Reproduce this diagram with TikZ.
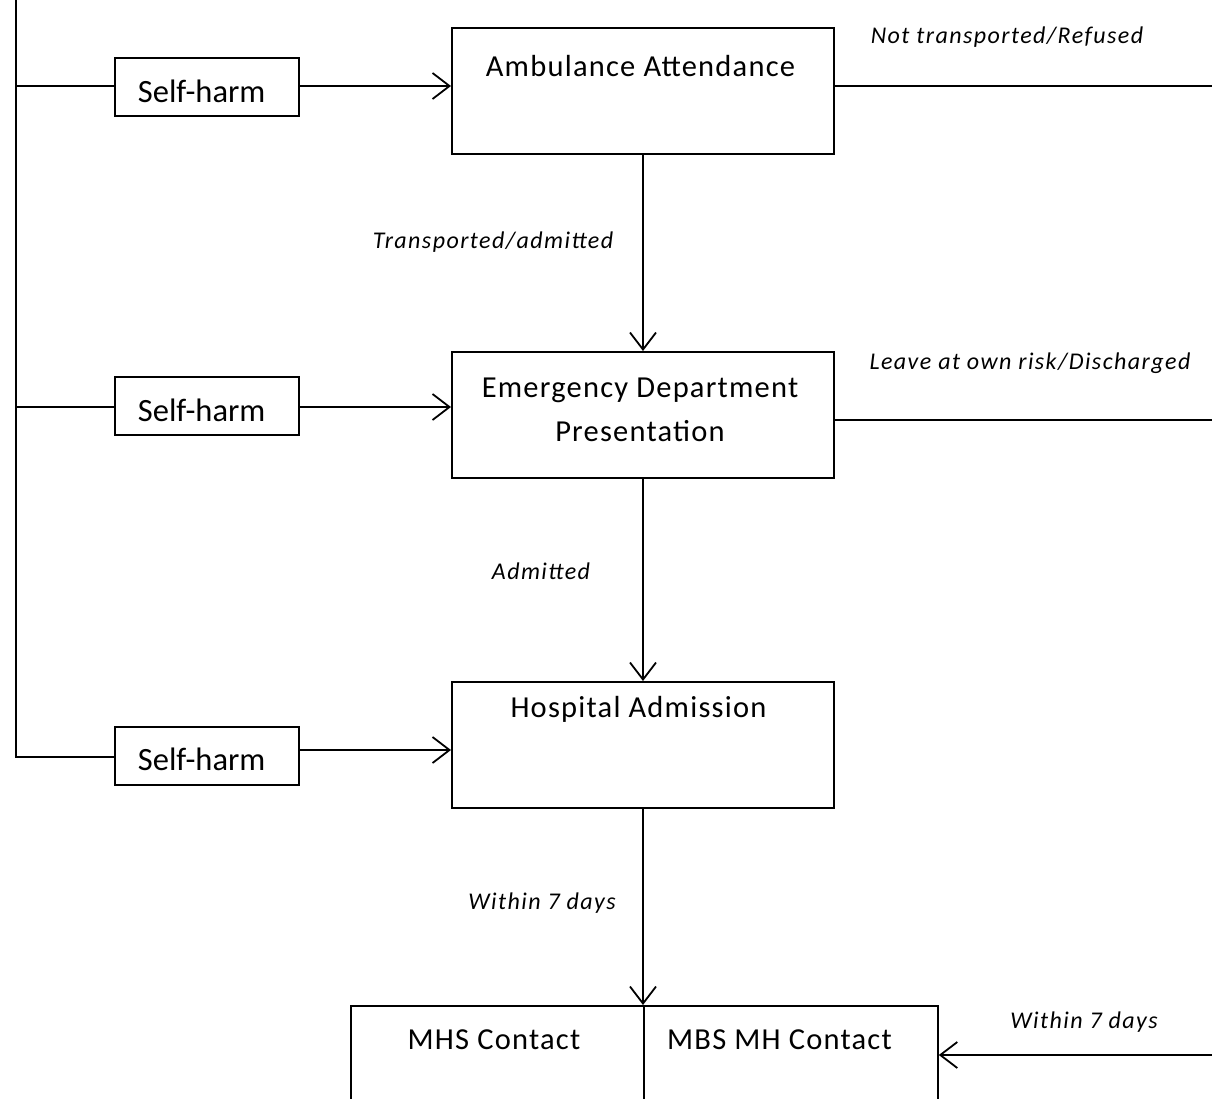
\documentclass[tikz,border=0pt]{standalone}
\usepackage{fontspec}
\setmainfont{Carlito}
\usetikzlibrary{arrows.meta}
\begin{document}
\begin{tikzpicture}[x=1pt,y=-1pt,
  line width=1.8pt,
  flowbox/.style={draw, line width=1.8pt, minimum width=382pt, minimum height=126pt, anchor=north west, inner sep=0pt},
  halfbox/.style={draw, line width=1.8pt, minimum height=120pt, anchor=north west, inner sep=0pt},
  shbox/.style={draw, line width=1.8pt, minimum width=184pt, minimum height=58pt, inner sep=0pt},
  shtext/.style={anchor=base west, inner sep=0pt, font=\fontsize{32.5}{36}\selectfont},
  boxtext/.style={anchor=base, inner sep=0pt, font=\fontsize{30.5}{36}\selectfont\addfontfeature{LetterSpace=4}},
  lbl/.style={anchor=base, inner sep=0pt, font=\fontsize{24}{28}\selectfont\itshape\addfontfeature{LetterSpace=6}},
  arr/.style={-{Straight Barb[length=17pt,width=26pt,line width=1.8pt]}}
]
\useasboundingbox (0,0) rectangle (1212,1098);
\clip (0,0) rectangle (1212,1098);
\fill[white] (0,0) rectangle (1212,1098);

% main boxes
\node[flowbox] (amb) at (451,27) {};
\node[boxtext] (ambt) at (640.5,76) {Ambulance Attendance};
\node[flowbox] (ed) at (451,351) {};
\node[boxtext] (edt1) at (640,397) {Emergency Department};
\node[boxtext] (edt2) at (640,441) {Presentation};
\node[flowbox] (hosp) at (451,681) {};
\node[boxtext] (hospt) at (638.5,717) {Hospital Admission};

% bottom split box
\node[halfbox, minimum width=293pt] (mhs) at (350,1005) {};
\node[halfbox, minimum width=294pt] (mbs) at (643,1005) {};
\node[boxtext] (mhst) at (494,1049) {MHS Contact};
\node[boxtext] (mbst) at (779.5,1049) {MBS MH Contact};

% self-harm boxes
\node[shbox] (sh1) at (207,87) {};
\node[shtext] (sht1) at (137,102) {Self-harm};
\node[shbox] (sh2) at (207,406) {};
\node[shtext] (sht2) at (137,421) {Self-harm};
\node[shbox] (sh3) at (207,756) {};
\node[shtext] (sht3) at (137,770) {Self-harm};

% left spine
\coordinate (top) at (16,0);
\coordinate (c1) at (16,86);
\coordinate (c2) at (16,407);
\coordinate (c3) at (16,757);
\draw (top) -- (c3) -- (sh3.west |- c3);
\draw (c1) -- (sh1.west |- c1);
\draw (c2) -- (sh2.west |- c2);

% self-harm arrows
\draw[arr] (sh1.east |- 0,86) -- (amb.west |- 0,86);
\draw[arr] (sh2.east |- 0,407) -- (ed.west |- 0,407);
\draw[arr] (sh3.east |- 0,750) -- (hosp.west |- 0,750);

% vertical arrows
\draw[arr] (amb.south -| 643,0) -- (ed.north -| 643,0);
\draw[arr] (ed.south -| 643,0) -- (hosp.north -| 643,0);
\draw[arr] (hosp.south -| 643,0) -- (mbs.north west);

% right exits
\coordinate (r1) at (1212,86);
\coordinate (r2) at (1212,420);
\coordinate (r3) at (1212,1055);
\draw (amb.east |- r1) -- (r1);
\draw (ed.east |- r2) -- (r2);
\draw[arr] (r3) -- (mbs.east |- r3);

% labels
\node[lbl] (l1) at (1007,43.5) {Not transported/Refused};
\node[lbl] (l2) at (493,248.5) {Transported/admitted};
\node[lbl] (l3) at (1030,369.5) {Leave at own risk/Discharged};
\node[lbl] (l4) at (541,579.5) {Admitted};
\node[lbl] (l5) at (542,909.5) {Within 7 days};
\node[lbl] (l6) at (1084,1028.5) {Within 7 days};
\end{tikzpicture}
\end{document}
